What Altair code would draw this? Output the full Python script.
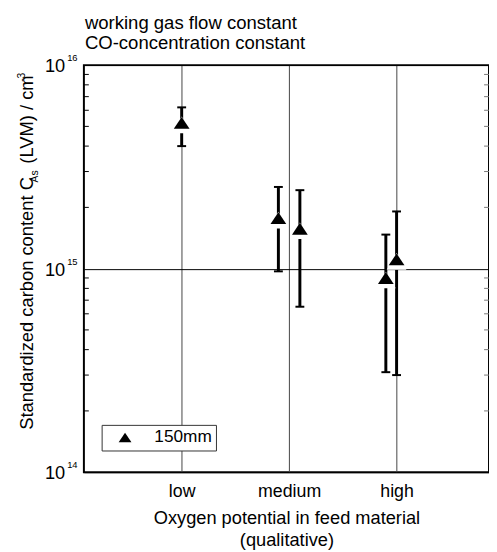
import altair as alt
import pandas as pd

# ---------------- data ----------------
categories = ["low", "medium", "high"]
cat_index = [1, 2, 2, 3, 3]            # category of each measurement
dodge = [0.0, -0.1, 0.1, -0.1, 0.0]     # small side-by-side shift within a category
values = [5.2e15, 1.77e15, 1.57e15, 9.0e14, 1.11e15]
err_low = [4.0e15, 9.7e14, 6.5e14, 3.1e14, 3.0e14]
err_high = [6.2e15, 2.52e15, 2.43e15, 1.47e15, 1.91e15]
series = ["150mm"] * 5
y_exponents = [14, 15, 16]
minor_mult = [2, 3, 4, 5, 6, 7, 8, 9]
title_lines = ["working gas flow constant", "CO-concentration constant"]
x_title = ["Oxygen potential in feed material", "(qualitative)"]

FONT = "Liberation Sans"

df = pd.DataFrame({
    "x": [c + d for c, d in zip(cat_index, dodge)],
    "v": values,
    "lo": err_low,
    "hi": err_high,
    "series": series,
})
ticks_df = pd.DataFrame({"v": [10.0 ** e for e in y_exponents],
                         "exp": [str(e) for e in y_exponents]})
minor_df = pd.DataFrame({"v": [m * 10.0 ** e for e in y_exponents[:-1] for m in minor_mult]})

yscale = alt.Scale(type="log", domain=[1e14, 1e16], nice=False)
xscale = alt.Scale(domain=[0.09, 3.86], nice=False, zero=False)

label_expr = " : ".join(
    f"datum.value == {i + 1} ? '{c}'" for i, c in enumerate(categories[:-1])
) + f" : '{categories[-1]}'"

xaxis = alt.Axis(values=[1, 2, 3], labelExpr=label_expr, grid=True,
                 gridColor="#444444", gridWidth=1, ticks=False, tickSize=0,
                 domain=False, labelFontSize=18, labelFont=FONT,
                 labelColor="black", labelPadding=11, labelBaseline="top",
                 title=x_title, titleFontSize=18.5, titleFont=FONT,
                 titleFontWeight="normal", titleColor="black",
                 titleLineHeight=22, titlePadding=8)
yaxis = alt.Axis(values=[1e14, 1e15, 1e16], grid=True, gridColor="black",
                 gridWidth=1, ticks=False, labels=False, domain=False,
                 title=None)

TRI = "M0,-0.75L1,0.75L-1,0.75Z"
TRI_BG = "M0,-0.8L1.25,1.3L-1.25,1.3Z"

base = alt.Chart(df)

stems = base.mark_rule(color="black", strokeWidth=3).encode(
    x=alt.X("x:Q", scale=xscale, axis=xaxis),
    y=alt.Y("lo:Q", scale=yscale, axis=yaxis),
    y2="hi:Q",
)

caps_lo = base.mark_tick(orient="horizontal", size=9, thickness=2, color="black",
                         opacity=1).encode(
    x=alt.X("x:Q", scale=xscale, axis=xaxis),
    y=alt.Y("lo:Q", scale=yscale, axis=yaxis),
)
caps_hi = base.mark_tick(orient="horizontal", size=9, thickness=2, color="black",
                         opacity=1).encode(
    x=alt.X("x:Q", scale=xscale, axis=xaxis),
    y=alt.Y("hi:Q", scale=yscale, axis=yaxis),
)

halo = base.mark_point(shape=TRI_BG, filled=True, color="white", size=256,
                       opacity=1, strokeWidth=0).encode(
    x=alt.X("x:Q", scale=xscale, axis=xaxis),
    y=alt.Y("v:Q", scale=yscale, axis=yaxis),
)

points = base.mark_point(filled=True, color="black", size=256, opacity=1,
                         strokeWidth=0).encode(
    x=alt.X("x:Q", scale=xscale, axis=xaxis),
    y=alt.Y("v:Q", scale=yscale, axis=yaxis),
    shape=alt.Shape("series:N", scale=alt.Scale(range=[TRI]),
                    legend=alt.Legend(title=None, orient="none", legendX=18,
                                      legendY=365, fillColor="white",
                                      strokeColor="#333333", padding=4,
                                      symbolOffset=11, labelOffset=21,
                                      symbolSize=169, symbolFillColor="black",
                                      symbolStrokeWidth=0, labelFontSize=17.5,
                                      labelFont=FONT, labelColor="black")),
)

minor_left = alt.Chart(minor_df).mark_rule(color="black", strokeWidth=1).encode(
    y=alt.Y("v:Q", scale=yscale, axis=yaxis), x=alt.value(0), x2=alt.value(5))
minor_right = alt.Chart(minor_df).mark_rule(color="#777777", strokeWidth=1).encode(
    y=alt.Y("v:Q", scale=yscale, axis=yaxis), x=alt.value(406), x2=alt.value(411))

tick_base = alt.Chart(ticks_df)
tick_ten = tick_base.mark_text(align="right", baseline="middle", fontSize=18.5,
                               font=FONT, color="black", dy=1).encode(
    y=alt.Y("v:Q", scale=yscale, axis=yaxis), x=alt.value(-19), text=alt.value("10"))
tick_exp = tick_base.mark_text(align="left", baseline="middle", fontSize=9.5,
                               font=FONT, color="black", dy=-7).encode(
    y=alt.Y("v:Q", scale=yscale, axis=yaxis), x=alt.value(-17), text="exp:N")

one = pd.DataFrame({"k": [0]})


def txt(s, x, y, size, **kw):
    return alt.Chart(one).mark_text(text=s, fontSize=size, font=FONT, color="black",
                                    baseline="alphabetic", **kw).encode(
        x=alt.value(x), y=alt.value(y))


ytitle = [
    txt("Standardized carbon content C", -52, 370, 18.6, angle=270, align="left"),
    txt("As", -47, 119, 10.5, angle=270, align="left"),
    txt("(LVM) / cm", -52, 100, 18.6, angle=270, align="left"),
    txt("-3", -60, 17, 10.5, angle=270, align="left"),
]
titles = [
    txt(title_lines[0], 1, -37, 18.8, align="left"),
    txt(title_lines[1], 1, -16, 18.8, align="left"),
]

chart = alt.layer(
    stems, minor_left, minor_right, caps_lo, caps_hi, halo, points,
    tick_ten, tick_exp, *ytitle, *titles,
).properties(
    width=411, height=413,
    autosize=alt.AutoSizeParams(type="none"),
    padding={"left": 77, "top": 54, "right": 0, "bottom": 75},
).configure_view(stroke="black", strokeWidth=2)

chart.save("out.html", embed_options={"renderer": "svg", "actions": False})
